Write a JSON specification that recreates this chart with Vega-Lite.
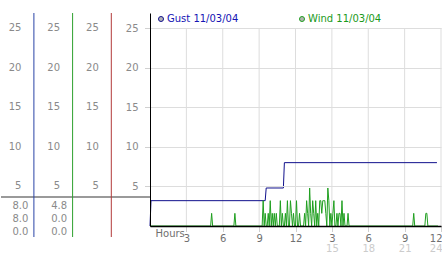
{
  "$schema": "https://vega.github.io/schema/vega-lite/v6.json",
  "padding": {"left": 0, "top": 12, "right": 0, "bottom": 0},
  "background": "white",
  "spacing": 0,
  "bounds": "flush",
  "config": {"view": {"stroke": null}, "font": "DejaVu Sans"},
  "resolve": {"scale": {"color": "independent", "x": "independent", "y": "independent"}, "legend": {"color": "independent"}},
  "datasets": {
    "columns": [
      {"col": 1, "series": "Gust"},
      {"col": 2, "series": "Wind"},
      {"col": 3, "series": "Other"}
    ],
    "scaleLabels": [
      {"col": 1, "value": 5}, {"col": 1, "value": 10}, {"col": 1, "value": 15}, {"col": 1, "value": 20}, {"col": 1, "value": 25},
      {"col": 2, "value": 5}, {"col": 2, "value": 10}, {"col": 2, "value": 15}, {"col": 2, "value": 20}, {"col": 2, "value": 25},
      {"col": 3, "value": 5}, {"col": 3, "value": 10}, {"col": 3, "value": 15}, {"col": 3, "value": 20}, {"col": 3, "value": 25}
    ],
    "stats": [
      {"col": 1, "stat": "max", "v": 8.0},
      {"col": 1, "stat": "last", "v": 8.0},
      {"col": 1, "stat": "min", "v": 0.0},
      {"col": 2, "stat": "max", "v": 4.8},
      {"col": 2, "stat": "last", "v": 0.0},
      {"col": 2, "stat": "min", "v": 0.0}
    ],
    "hours": [{"h": 3}, {"h": 6}, {"h": 9}, {"h": 12}, {"h": 15}, {"h": 18}, {"h": 21}, {"h": 24}],
    "obs": [
      {"series": "Gust 11/03/04", "t": 0, "v": 0},
      {"series": "Gust 11/03/04", "t": 0.083, "v": 3.2},
      {"series": "Gust 11/03/04", "t": 9.5, "v": 3.2},
      {"series": "Gust 11/03/04", "t": 9.583, "v": 4.8},
      {"series": "Gust 11/03/04", "t": 11.0, "v": 4.8},
      {"series": "Gust 11/03/04", "t": 11.083, "v": 8.0},
      {"series": "Gust 11/03/04", "t": 23.667, "v": 8.0},
      {"series": "Wind 11/03/04", "t": 0, "v": 0},
      {"series": "Wind 11/03/04", "t": 5.0, "v": 0},
      {"series": "Wind 11/03/04", "t": 5.083, "v": 1.6},
      {"series": "Wind 11/03/04", "t": 5.167, "v": 0},
      {"series": "Wind 11/03/04", "t": 6.917, "v": 0},
      {"series": "Wind 11/03/04", "t": 7.0, "v": 1.6},
      {"series": "Wind 11/03/04", "t": 7.083, "v": 0},
      {"series": "Wind 11/03/04", "t": 9.25, "v": 0},
      {"series": "Wind 11/03/04", "t": 9.333, "v": 3.2},
      {"series": "Wind 11/03/04", "t": 9.417, "v": 0},
      {"series": "Wind 11/03/04", "t": 9.5, "v": 1.6},
      {"series": "Wind 11/03/04", "t": 9.583, "v": 0},
      {"series": "Wind 11/03/04", "t": 9.667, "v": 0},
      {"series": "Wind 11/03/04", "t": 9.75, "v": 1.6},
      {"series": "Wind 11/03/04", "t": 9.833, "v": 0},
      {"series": "Wind 11/03/04", "t": 9.917, "v": 3.2},
      {"series": "Wind 11/03/04", "t": 10.0, "v": 0},
      {"series": "Wind 11/03/04", "t": 10.083, "v": 1.6},
      {"series": "Wind 11/03/04", "t": 10.167, "v": 0},
      {"series": "Wind 11/03/04", "t": 10.25, "v": 1.6},
      {"series": "Wind 11/03/04", "t": 10.333, "v": 0},
      {"series": "Wind 11/03/04", "t": 10.417, "v": 1.6},
      {"series": "Wind 11/03/04", "t": 10.5, "v": 0},
      {"series": "Wind 11/03/04", "t": 10.667, "v": 0},
      {"series": "Wind 11/03/04", "t": 10.75, "v": 3.2},
      {"series": "Wind 11/03/04", "t": 10.833, "v": 0},
      {"series": "Wind 11/03/04", "t": 10.917, "v": 1.6},
      {"series": "Wind 11/03/04", "t": 11.0, "v": 0},
      {"series": "Wind 11/03/04", "t": 11.083, "v": 0},
      {"series": "Wind 11/03/04", "t": 11.167, "v": 1.6},
      {"series": "Wind 11/03/04", "t": 11.25, "v": 0},
      {"series": "Wind 11/03/04", "t": 11.333, "v": 3.2},
      {"series": "Wind 11/03/04", "t": 11.417, "v": 0},
      {"series": "Wind 11/03/04", "t": 11.5, "v": 0},
      {"series": "Wind 11/03/04", "t": 11.583, "v": 3.2},
      {"series": "Wind 11/03/04", "t": 11.667, "v": 1.6},
      {"series": "Wind 11/03/04", "t": 11.75, "v": 0},
      {"series": "Wind 11/03/04", "t": 11.833, "v": 1.6},
      {"series": "Wind 11/03/04", "t": 11.917, "v": 0},
      {"series": "Wind 11/03/04", "t": 12.0, "v": 0},
      {"series": "Wind 11/03/04", "t": 12.083, "v": 3.2},
      {"series": "Wind 11/03/04", "t": 12.167, "v": 0},
      {"series": "Wind 11/03/04", "t": 12.25, "v": 0},
      {"series": "Wind 11/03/04", "t": 12.333, "v": 1.6},
      {"series": "Wind 11/03/04", "t": 12.417, "v": 0},
      {"series": "Wind 11/03/04", "t": 12.667, "v": 0},
      {"series": "Wind 11/03/04", "t": 12.75, "v": 1.6},
      {"series": "Wind 11/03/04", "t": 12.833, "v": 0},
      {"series": "Wind 11/03/04", "t": 12.917, "v": 3.2},
      {"series": "Wind 11/03/04", "t": 13.0, "v": 1.6},
      {"series": "Wind 11/03/04", "t": 13.083, "v": 0},
      {"series": "Wind 11/03/04", "t": 13.167, "v": 4.8},
      {"series": "Wind 11/03/04", "t": 13.25, "v": 1.6},
      {"series": "Wind 11/03/04", "t": 13.333, "v": 0},
      {"series": "Wind 11/03/04", "t": 13.417, "v": 3.2},
      {"series": "Wind 11/03/04", "t": 13.5, "v": 1.6},
      {"series": "Wind 11/03/04", "t": 13.583, "v": 0},
      {"series": "Wind 11/03/04", "t": 13.667, "v": 3.2},
      {"series": "Wind 11/03/04", "t": 13.75, "v": 0},
      {"series": "Wind 11/03/04", "t": 13.833, "v": 1.6},
      {"series": "Wind 11/03/04", "t": 13.917, "v": 0},
      {"series": "Wind 11/03/04", "t": 14.0, "v": 3.2},
      {"series": "Wind 11/03/04", "t": 14.083, "v": 3.2},
      {"series": "Wind 11/03/04", "t": 14.167, "v": 1.6},
      {"series": "Wind 11/03/04", "t": 14.25, "v": 3.2},
      {"series": "Wind 11/03/04", "t": 14.333, "v": 3.2},
      {"series": "Wind 11/03/04", "t": 14.417, "v": 3.2},
      {"series": "Wind 11/03/04", "t": 14.5, "v": 1.6},
      {"series": "Wind 11/03/04", "t": 14.583, "v": 0},
      {"series": "Wind 11/03/04", "t": 14.667, "v": 4.8},
      {"series": "Wind 11/03/04", "t": 14.75, "v": 3.2},
      {"series": "Wind 11/03/04", "t": 14.833, "v": 0},
      {"series": "Wind 11/03/04", "t": 14.917, "v": 1.6},
      {"series": "Wind 11/03/04", "t": 15.0, "v": 0},
      {"series": "Wind 11/03/04", "t": 15.083, "v": 1.6},
      {"series": "Wind 11/03/04", "t": 15.167, "v": 3.2},
      {"series": "Wind 11/03/04", "t": 15.25, "v": 0},
      {"series": "Wind 11/03/04", "t": 15.333, "v": 0},
      {"series": "Wind 11/03/04", "t": 15.417, "v": 1.6},
      {"series": "Wind 11/03/04", "t": 15.5, "v": 0},
      {"series": "Wind 11/03/04", "t": 15.583, "v": 1.6},
      {"series": "Wind 11/03/04", "t": 15.667, "v": 1.6},
      {"series": "Wind 11/03/04", "t": 15.75, "v": 0},
      {"series": "Wind 11/03/04", "t": 15.833, "v": 3.2},
      {"series": "Wind 11/03/04", "t": 15.917, "v": 0},
      {"series": "Wind 11/03/04", "t": 16.0, "v": 1.6},
      {"series": "Wind 11/03/04", "t": 16.083, "v": 0},
      {"series": "Wind 11/03/04", "t": 16.25, "v": 0},
      {"series": "Wind 11/03/04", "t": 16.333, "v": 1.6},
      {"series": "Wind 11/03/04", "t": 16.417, "v": 0},
      {"series": "Wind 11/03/04", "t": 21.667, "v": 0},
      {"series": "Wind 11/03/04", "t": 21.75, "v": 1.6},
      {"series": "Wind 11/03/04", "t": 21.833, "v": 0},
      {"series": "Wind 11/03/04", "t": 22.667, "v": 0},
      {"series": "Wind 11/03/04", "t": 22.75, "v": 1.6},
      {"series": "Wind 11/03/04", "t": 22.833, "v": 1.6},
      {"series": "Wind 11/03/04", "t": 22.917, "v": 0},
      {"series": "Wind 11/03/04", "t": 23.75, "v": 0}
    ]
  },
  "hconcat": [
    {
      "width": 149,
      "height": 224,
      "layer": [
        {
          "data": {"values": [{}]},
          "mark": {"type": "rule", "color": "#9a9a9a", "strokeWidth": 2},
          "encoding": {
            "y": {"datum": 3.66, "type": "quantitative", "scale": {"domain": [0, 26.9], "range": [213, 0], "nice": false}, "axis": null}
          }
        },
        {
          "data": {"name": "columns"},
          "mark": {"type": "rule", "strokeWidth": 1},
          "encoding": {
            "x": {"field": "col", "type": "quantitative", "scale": {"domain": [0.15, 4], "nice": false, "zero": false}, "axis": null},
            "color": {"field": "series", "type": "nominal", "scale": {"domain": ["Gust", "Wind", "Other"], "range": ["#2a44a6", "#2ea02e", "#b23a3a"]}, "legend": null}
          }
        },
        {
          "data": {"name": "scaleLabels"},
          "mark": {"type": "text", "align": "right", "baseline": "middle", "dx": -12.5, "fontSize": 10, "color": "#8a8a8a"},
          "encoding": {
            "x": {"field": "col", "type": "quantitative", "scale": {"domain": [0.15, 4], "nice": false, "zero": false}, "axis": null},
            "y": {"field": "value", "type": "quantitative", "scale": {"domain": [0, 26.9], "range": [213, 0], "nice": false}, "axis": null},
            "text": {"field": "value", "type": "quantitative"}
          }
        },
        {
          "data": {"name": "stats"},
          "mark": {"type": "text", "align": "right", "baseline": "middle", "dx": -5.5, "fontSize": 10, "color": "#8a8a8a"},
          "encoding": {
            "x": {"field": "col", "type": "quantitative", "scale": {"domain": [0.15, 4], "nice": false, "zero": false}, "axis": null},
            "y": {"field": "stat", "type": "ordinal", "scale": {"type": "point", "domain": ["max", "last", "min"], "range": [193, 219], "padding": 0}, "axis": null},
            "text": {"field": "v", "type": "quantitative", "format": ".1f"}
          }
        }
      ],
      "resolve": {"scale": {"y": "independent"}}
    },
    {
      "width": 291,
      "height": 213,
      "layer": [
        {
          "data": {"name": "hours"},
          "mark": {"type": "rule", "color": "#dddddd", "strokeWidth": 1},
          "encoding": {
            "x": {
              "field": "h", "type": "quantitative",
              "scale": {"domain": [0, 24], "nice": false},
              "axis": {"orient": "bottom", "values": [15, 18, 21, 24], "labelColor": "#cccccc", "labelFontSize": 10, "ticks": false, "tickSize": 0, "domain": false, "grid": false, "labelPadding": 17, "labelFlush": true, "labelFlushOffset": 1, "title": null}
            },
            "y": {"datum": 0, "type": "quantitative", "scale": {"domain": [0, 26.9], "nice": false}},
            "y2": {"datum": 25}
          }
        },
        {
          "data": {"name": "obs"},
          "mark": {"type": "line", "strokeWidth": 1, "interpolate": "linear"},
          "encoding": {
            "x": {
              "field": "t", "type": "quantitative",
              "scale": {"domain": [0, 24], "nice": false},
              "axis": {
                "orient": "bottom",
                "values": [3, 6, 9, 12, 15, 18, 21, 24],
                "labelExpr": "datum.value > 12 ? '' + (datum.value - 12) : '' + datum.value",
                "labelColor": "#707070", "labelFontSize": 10, "labelPadding": 2,
                "labelFlush": true, "labelFlushOffset": 1,
                "tickSize": 5, "tickColor": "#a0a0a0", "tickDash": [1, 1],
                "domainColor": "#000000", "domainWidth": 1.5,
                "grid": false, "zindex": 1,
                "title": "Hours", "titleX": 5, "titleY": 7, "titleAlign": "left", "titleBaseline": "middle", "titleAngle": 0,
                "titleFontSize": 10, "titleFontWeight": "normal", "titleColor": "#707070"
              }
            },
            "y": {
              "field": "v", "type": "quantitative",
              "scale": {"domain": [0, 26.9], "nice": false},
              "axis": {
                "orient": "left",
                "values": [5, 10, 15, 20, 25],
                "labelColor": "#8a8a8a", "labelFontSize": 10, "labelPadding": 7,
                "tickSize": 5, "tickColor": "#a0a0a0", "tickDash": [1, 1],
                "domainColor": "#000000", "domainWidth": 1,
                "grid": true, "gridColor": "#dddddd", "gridWidth": 1,
                "title": null, "zindex": 1
              }
            },
            "color": {
              "field": "series", "type": "nominal",
              "scale": {"domain": ["Gust 11/03/04", "Wind 11/03/04"], "range": ["#10108c", "#1f9f1f"]},
              "legend": {
                "orient": "none", "legendX": 6, "legendY": 1, "direction": "horizontal", "title": null,
                "symbolType": "circle", "symbolSize": 25, "symbolStrokeWidth": 1,
                "labelFontSize": 10, "labelOffset": 1, "columnPadding": 58,
                "encode": {
                  "symbols": {"update": {"fill": {"value": "#b4b4b4"}, "stroke": {"value": "#909090"}, "opacity": {"value": 1}}},
                  "labels": {"update": {"fill": {"signal": "datum.value === 'Gust 11/03/04' ? '#1414b4' : '#1a9a1a'"}}}
                }
              }
            }
          }
        }
      ],
      "resolve": {"axis": {"x": "independent"}}
    }
  ]
}
